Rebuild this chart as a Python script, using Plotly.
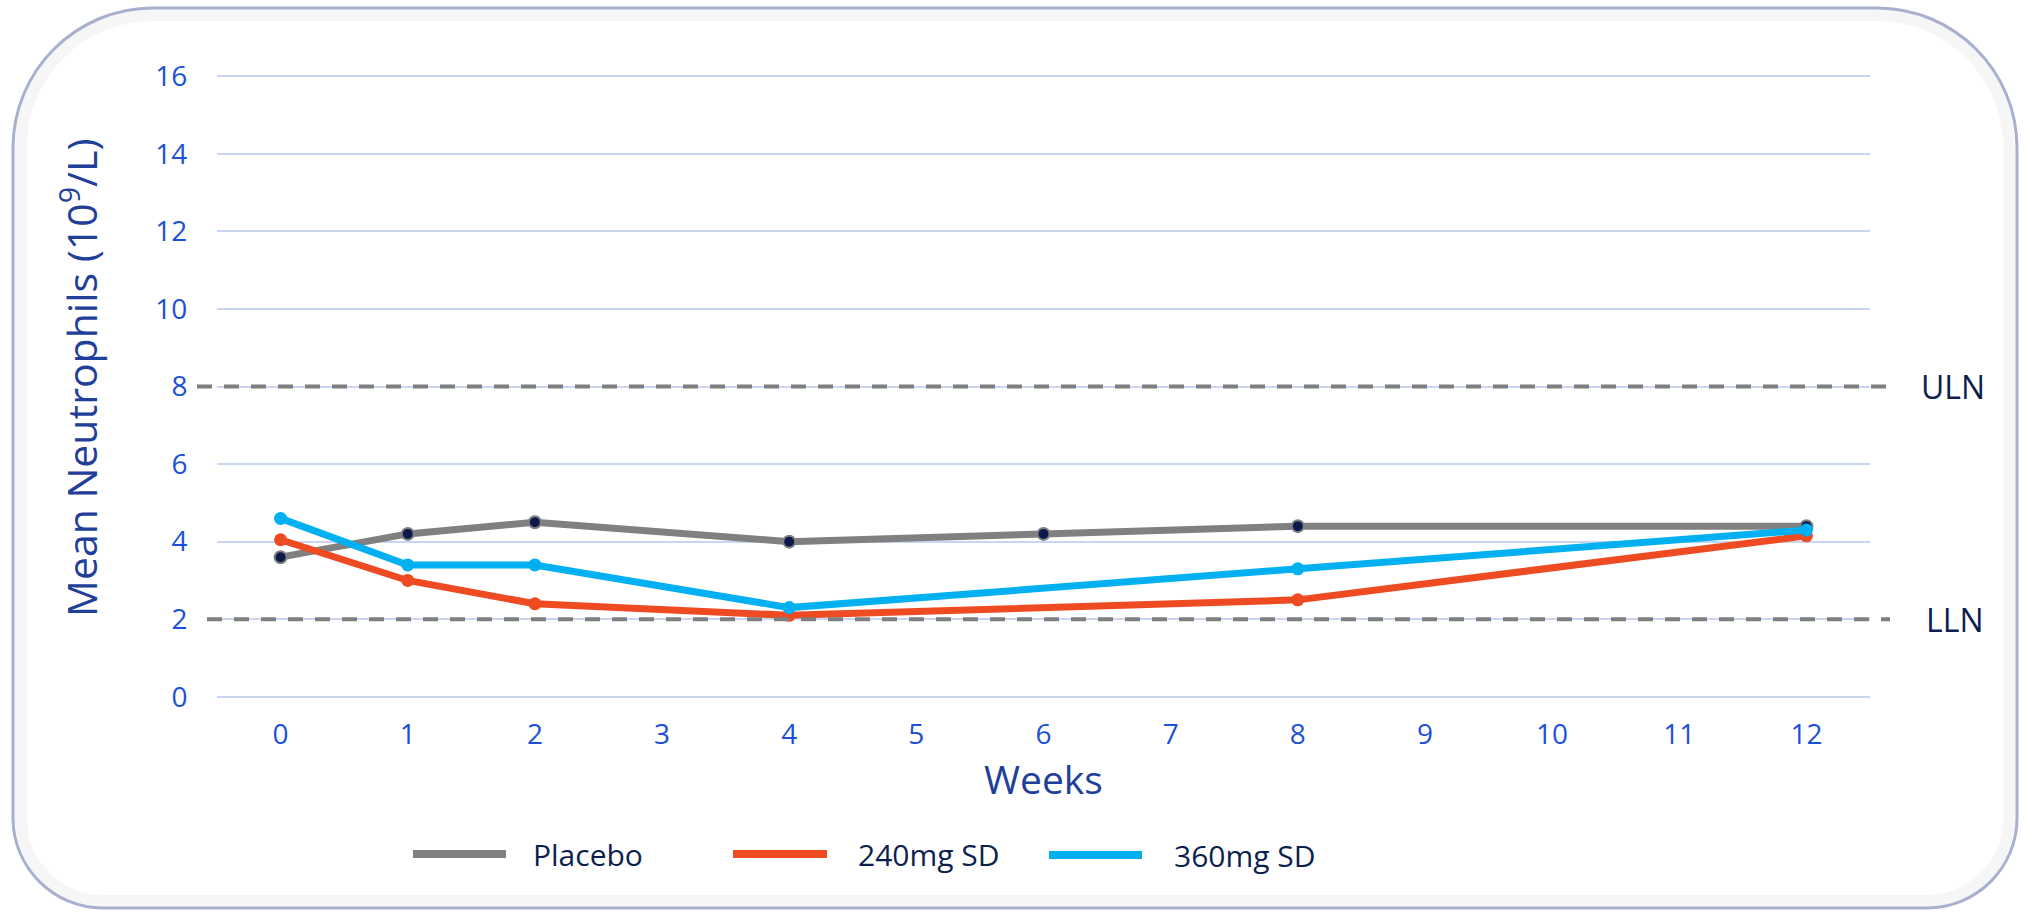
import plotly.graph_objects as go

# ---------------- data ----------------
weeks = [0, 1, 2, 4, 6, 8, 12]
weeks_240 = [0, 1, 2, 4, 8, 12]
weeks_360 = [0, 1, 2, 4, 8, 12]
placebo = [3.6, 4.2, 4.5, 4.0, 4.2, 4.4, 4.4]
mg240 = [4.05, 3.0, 2.4, 2.1, 2.5, 4.15]
mg360 = [4.6, 3.4, 3.4, 2.3, 3.3, 4.3]
x_ticks = list(range(0, 13))
y_ticks = [0, 2, 4, 6, 8, 10, 12, 14, 16]
ULN = 8
LLN = 2
series_names = ["Placebo", "240mg SD", "360mg SD"]
y_title = "Mean Neutrophils (10<sup>9</sup>/L)"
x_title = "Weeks"

# ---------------- layout constants ----------------
W, H = 2025, 914
ML, MR, MT, MB = 217, 155, 75, 216
PW = W - ML - MR
PH = H - MT - MB
Y_RANGE = [-0.03, 16.03]
X_RANGE = [-0.5, 12.5]

C_PLACEBO = "#808080"
C_240 = "#ee4b22"
C_360 = "#00b0f0"
C_NAVY = "#0c1f4f"
C_TICK = "#1c50d8"
C_TITLE = "#1f3f99"
C_GRID = "#c8d6f4"
FONT = "Open Sans"


def px_x(X):
    return (X - ML) / PW


def px_y(Y):
    return (H - MB - Y) / PH


def val_y(v):
    return (v - Y_RANGE[0]) / (Y_RANGE[1] - Y_RANGE[0])


fig = go.Figure()

fig.add_trace(go.Scatter(
    x=weeks, y=placebo, name=series_names[0], mode="lines+markers",
    line=dict(color=C_PLACEBO, width=7),
    marker=dict(color="#0b1a4a", size=12, line=dict(color=C_PLACEBO, width=2)),
    showlegend=False))
fig.add_trace(go.Scatter(
    x=weeks_240, y=mg240, name=series_names[1], mode="lines+markers",
    line=dict(color=C_240, width=7),
    marker=dict(color=C_240, size=13),
    showlegend=False))
fig.add_trace(go.Scatter(
    x=weeks_360, y=mg360, name=series_names[2], mode="lines+markers",
    line=dict(color=C_360, width=7),
    marker=dict(color=C_360, size=13),
    showlegend=False))


# rounded border path (pixel -> paper)
def rounded_rect(x0, y0, x1, y1, rt, rb):
    k = 0.5523

    def P(X, Y):
        return f"{px_x(X):.5f},{px_y(Y):.5f}"
    d = f"M{P(x0 + rt, y0)} L{P(x1 - rt, y0)} "
    d += f"C{P(x1 - rt + k * rt, y0)} {P(x1, y0 + rt - k * rt)} {P(x1, y0 + rt)} "
    d += f"L{P(x1, y1 - rb)} "
    d += f"C{P(x1, y1 - rb + k * rb)} {P(x1 - rb + k * rb, y1)} {P(x1 - rb, y1)} "
    d += f"L{P(x0 + rb, y1)} "
    d += f"C{P(x0 + rb - k * rb, y1)} {P(x0, y1 - rb + k * rb)} {P(x0, y1 - rb)} "
    d += f"L{P(x0, y0 + rt)} "
    d += f"C{P(x0, y0 + rt - k * rt)} {P(x0 + rt - k * rt, y0)} {P(x0 + rt, y0)} Z"
    return d


shapes = []
# soft inner shadow
shapes.append(dict(type="path", xref="paper", yref="paper",
                   path=rounded_rect(21, 15, 2009, 901, 132, 83),
                   line=dict(color="rgba(0,0,0,0.035)", width=12), layer="below"))
shapes.append(dict(type="path", xref="paper", yref="paper",
                   path=rounded_rect(13, 8, 2017, 908, 140, 90),
                   line=dict(color="#a9b0cf", width=3), layer="below"))

# ULN / LLN dashed reference lines
shapes.append(dict(type="line", xref="paper", yref="paper",
                   x0=px_x(197), x1=px_x(1886), y0=val_y(ULN), y1=val_y(ULN),
                   line=dict(color="#7f7f7f", width=4, dash="15px,12px"), layer="above"))
shapes.append(dict(type="line", xref="paper", yref="paper",
                   x0=px_x(207), x1=px_x(1890), y0=val_y(LLN), y1=val_y(LLN),
                   line=dict(color="#7f7f7f", width=4, dash="15px,12px"), layer="above"))

annotations = [
    dict(text="ULN", xref="paper", yref="paper", x=px_x(1953), y=val_y(ULN),
         xanchor="center", yanchor="middle", showarrow=False,
         font=dict(family=FONT, size=32, color=C_NAVY)),
    dict(text="LLN", xref="paper", yref="paper", x=px_x(1955), y=val_y(LLN),
         xanchor="center", yanchor="middle", showarrow=False,
         font=dict(family=FONT, size=32, color=C_NAVY)),
    dict(text=y_title, xref="paper", yref="paper", x=px_x(79), y=px_y(378),
         xanchor="center", yanchor="middle", textangle=-90, showarrow=False,
         font=dict(family=FONT, size=41, color=C_TITLE)),
]

# manual legend (long line symbols)
legend_items = [
    (series_names[0], C_PLACEBO, 413, 506, 531, 854),
    (series_names[1], C_240, 733, 827, 856, 854),
    (series_names[2], C_360, 1049, 1142, 1172, 855),
]
for name, col, lx0, lx1, tx, ly in legend_items:
    shapes.append(dict(type="line", xref="paper", yref="paper",
                       x0=px_x(lx0), x1=px_x(lx1), y0=px_y(ly), y1=px_y(ly),
                       line=dict(color=col, width=8)))
    annotations.append(dict(text=name, xref="paper", yref="paper",
                            x=px_x(tx), y=px_y(ly), xanchor="left", yanchor="middle",
                            showarrow=False,
                            font=dict(family=FONT, size=30, color=C_NAVY)))

fig.update_layout(
    width=W, height=H,
    margin=dict(l=ML, r=MR, t=MT, b=MB, pad=0),
    paper_bgcolor="white", plot_bgcolor="rgba(0,0,0,0)",
    font=dict(family=FONT),
    shapes=shapes, annotations=annotations,
    showlegend=False,
    xaxis=dict(
        range=X_RANGE, tickmode="array", tickvals=x_ticks,
        ticktext=[str(t) for t in x_ticks],
        showgrid=False, zeroline=False, showline=False,
        ticks="outside", ticklen=11, tickcolor="rgba(0,0,0,0)",
        tickfont=dict(family=FONT, size=28, color=C_TICK),
        title=dict(text=x_title, standoff=14,
                   font=dict(family=FONT, size=39, color=C_TITLE)),
    ),
    yaxis=dict(
        range=Y_RANGE, tickmode="array", tickvals=y_ticks,
        ticktext=[str(t) for t in y_ticks],
        showgrid=True, gridcolor=C_GRID, gridwidth=2,
        zeroline=False, showline=False,
        ticks="outside", ticklen=23, tickcolor="rgba(0,0,0,0)",
        tickfont=dict(family=FONT, size=28, color=C_TICK),
    ),
)

fig.write_html("out.html")
